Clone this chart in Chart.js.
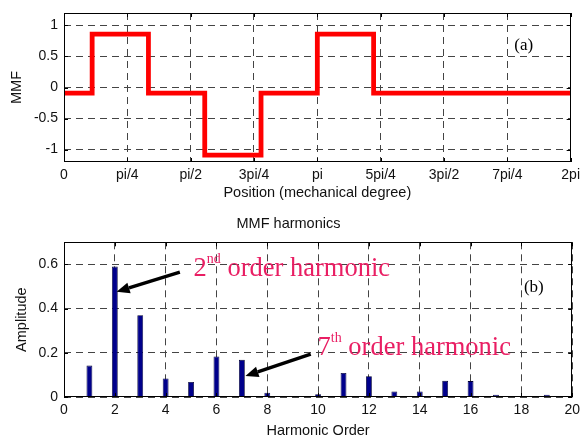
<!DOCTYPE html>
<html>
<head>
<meta charset="utf-8">
<script src="https://cdn.jsdelivr.net/npm/chart.js@4.4.1/dist/chart.umd.min.js"></script>
<style>
  html, body { margin: 0; padding: 0; background: #fff; }
  #wrap { position: relative; width: 586px; height: 441px; }
  canvas { position: absolute; left: 0; }
  #mmfChart { top: 0; }
  #harmChart { top: 205px; }
</style>
</head>
<body>
<div id="wrap">
  <canvas id="mmfChart" width="586" height="205"></canvas>
  <canvas id="harmChart" width="586" height="236"></canvas>
</div>
<script>
// (a) MMF waveform: step changes (degrees) and the level after each step
const positionDeg = [0, 20, 60, 100, 140, 180, 220, 360];
const mmfValues = [-0.09, 0.86, -0.09, -1.09, -0.09, 0.86, -0.09, -0.09];
const positionTicks = [0, 45, 90, 135, 180, 225, 270, 315, 360];
const positionLabels = ["0", "pi/4", "pi/2", "3pi/4", "pi", "5pi/4", "3pi/2", "7pi/4", "2pi"];
const mmfTicks = [-1, -0.5, 0, 0.5, 1];
const mmfTickLabels = ["-1", "-0.5", "0", "0.5", "1"];

// (b) harmonic amplitudes
const harmonicOrders = [1, 2, 3, 4, 5, 6, 7, 8, 9, 10, 11, 12, 13, 14, 15, 16, 17, 18, 19];
const amplitudes = [0.142, 0.59, 0.37, 0.084, 0.068, 0.183, 0.168, 0.019, 0.004, 0.013,
                    0.109, 0.094, 0.025, 0.025, 0.073, 0.072, 0.010, 0.004, 0.010];
const orderTicks = [0, 2, 4, 6, 8, 10, 12, 14, 16, 18, 20];
const ampTicks = [0, 0.2, 0.4, 0.6];
const ampTickLabels = ["0", "0.2", "0.4", "0.6"];

Chart.defaults.font.family = "'Liberation Sans', Arial, sans-serif";
Chart.defaults.font.size = 14;
Chart.defaults.color = "#111";

const GRID = "#444";

// box, inward tick marks, text notes and arrows (matlab look)
const matlabFrame = {
  id: "matlabFrame",
  afterDatasetsDraw(chart, args, opts) {
    const { ctx, chartArea: a, scales: { x, y } } = chart;
    ctx.save();
    ctx.strokeStyle = "#000";
    ctx.lineWidth = 1;
    ctx.strokeRect(Math.round(a.left) + 0.5, Math.round(a.top) + 0.5,
                   Math.round(a.width) - 1, Math.round(a.height) - 1);
    ctx.beginPath();
    x.ticks.forEach(t => {
      const px = Math.round(x.getPixelForValue(t.value)) + 0.5;
      ctx.moveTo(px, a.bottom); ctx.lineTo(px, a.bottom - 4);
      ctx.moveTo(px, a.top); ctx.lineTo(px, a.top + 4);
    });
    y.ticks.forEach(t => {
      const py = Math.round(y.getPixelForValue(t.value)) + 0.5;
      ctx.moveTo(a.left, py); ctx.lineTo(a.left + 4, py);
      ctx.moveTo(a.right, py); ctx.lineTo(a.right - 4, py);
    });
    ctx.stroke();

    (opts.arrows || []).forEach(ar => {
      const x1 = x.getPixelForValue(ar.from[0]), y1 = y.getPixelForValue(ar.from[1]);
      const x2 = x.getPixelForValue(ar.to[0]), y2 = y.getPixelForValue(ar.to[1]);
      const ang = Math.atan2(y2 - y1, x2 - x1);
      const headLen = 13, headW = 5.5;
      const bx = x2 - headLen * Math.cos(ang), by = y2 - headLen * Math.sin(ang);
      ctx.strokeStyle = "#000";
      ctx.fillStyle = "#000";
      ctx.lineWidth = 3.5;
      ctx.beginPath();
      ctx.moveTo(x1, y1);
      ctx.lineTo(bx, by);
      ctx.stroke();
      ctx.beginPath();
      ctx.moveTo(x2, y2);
      ctx.lineTo(bx + headW * Math.sin(ang), by - headW * Math.cos(ang));
      ctx.lineTo(bx - headW * Math.sin(ang), by + headW * Math.cos(ang));
      ctx.closePath();
      ctx.fill();
    });

    (opts.notes || []).forEach(n => {
      let px = x.getPixelForValue(n.x);
      const py = y.getPixelForValue(n.y);
      ctx.fillStyle = n.color || "#000";
      ctx.textBaseline = "alphabetic";
      ctx.textAlign = "left";
      n.parts.forEach(p => {
        ctx.font = p.size + "px 'Liberation Serif', 'Times New Roman', serif";
        ctx.fillText(p.text, px, py - (p.rise || 0));
        px += ctx.measureText(p.text).width;
      });
    });
    ctx.restore();
  }
};

function yAxis(ticks, labels, min, max, title, titlePad) {
  return {
    min, max,
    afterFit: s => { s.width = 64; },
    afterBuildTicks: s => { s.ticks = ticks.map(v => ({ value: v })); },
    ticks: { padding: 6, color: "#111", font: { size: 14, lineHeight: 1 }, callback: (v, i) => labels[i] },
    grid: { color: GRID, lineWidth: 1, drawTicks: false },
    border: { display: false, dash: [7, 5] },
    title: { display: true, text: title, color: "#111", font: { size: 14.5 }, padding: { top: titlePad, bottom: 0 } }
  };
}

function xAxis(ticks, labels, min, max, title, height, titlePad) {
  return {
    type: "linear",
    min, max,
    offset: false,
    afterFit: s => { s.height = height; },
    afterBuildTicks: s => { s.ticks = ticks.map(v => ({ value: v })); },
    ticks: { padding: 6, autoSkip: false, maxRotation: 0, color: "#111", font: { size: 14, lineHeight: 1 },
             callback: (v, i) => labels[i] },
    grid: { color: GRID, lineWidth: 1, drawTicks: false, offset: false },
    border: { display: false, dash: [7, 5] },
    title: { display: true, text: title, color: "#111", font: { size: 14.5 }, padding: { top: 0, bottom: titlePad } }
  };
}

new Chart(document.getElementById("mmfChart"), {
  type: "line",
  data: {
    datasets: [{
      data: positionDeg.map((p, i) => ({ x: p, y: mmfValues[i] })),
      borderColor: "#ff0000",
      borderWidth: 4.8,
      stepped: true,
      pointRadius: 0,
      fill: false,
      borderJoinStyle: "miter"
    }]
  },
  options: {
    responsive: false,
    animation: false,
    layout: { padding: { top: 7, right: 9, left: 0, bottom: 0 } },
    plugins: {
      legend: { display: false },
      tooltip: { enabled: false },
      matlabFrame: {
        notes: [{ x: 320, y: 0.61, color: "#000", parts: [{ text: "(a)", size: 17 }] }]
      }
    },
    scales: {
      x: xAxis(positionTicks, positionLabels, 0, 360, "Position (mechanical degree)", 43, 3.3),
      y: yAxis(mmfTicks, mmfTickLabels, -1.2, 1.2, "MMF", 8)
    }
  },
  plugins: [matlabFrame]
});

const PINK = "#e91e63";

new Chart(document.getElementById("harmChart"), {
  type: "bar",
  data: {
    datasets: [{
      data: harmonicOrders.map((h, i) => ({ x: h, y: amplitudes[i] })),
      backgroundColor: "#00008b",
      borderColor: "#000033",
      borderWidth: 0.8,
      barPercentage: 0.23,
      categoryPercentage: 1
    }]
  },
  options: {
    responsive: false,
    animation: false,
    layout: { padding: { top: 0, right: 9, left: 0, bottom: 0 } },
    plugins: {
      legend: { display: false },
      tooltip: { enabled: false },
      title: {
        display: true,
        text: "MMF harmonics",
        color: "#111",
        font: { size: 14.5, weight: "normal" },
        padding: { top: 10.3, bottom: 9.6 }
      },
      matlabFrame: {
        arrows: [
          { from: [4.56, 0.565], to: [2.07, 0.476] },
          { from: [9.71, 0.194], to: [7.14, 0.095] }
        ],
        notes: [
          { x: 5.1, y: 0.547, color: PINK, parts: [
            { text: "2", size: 26.5 }, { text: "nd", size: 14, rise: 13 }, { text: " order harmonic", size: 26.5 }] },
          { x: 9.98, y: 0.19, color: PINK, parts: [
            { text: "7", size: 26.5 }, { text: "th", size: 14, rise: 13 }, { text: " order harmonic", size: 26.5 }] },
          { x: 18.1, y: 0.476, color: "#000", parts: [{ text: "(b)", size: 17 }] }
        ]
      }
    },
    scales: {
      x: xAxis(orderTicks, orderTicks.map(String), 0, 20, "Harmonic Order", 44, 1.3),
      y: yAxis(ampTicks, ampTickLabels, 0, 0.7, "Amplitude", 13)
    }
  },
  plugins: [matlabFrame]
});
</script>
</body>
</html>
